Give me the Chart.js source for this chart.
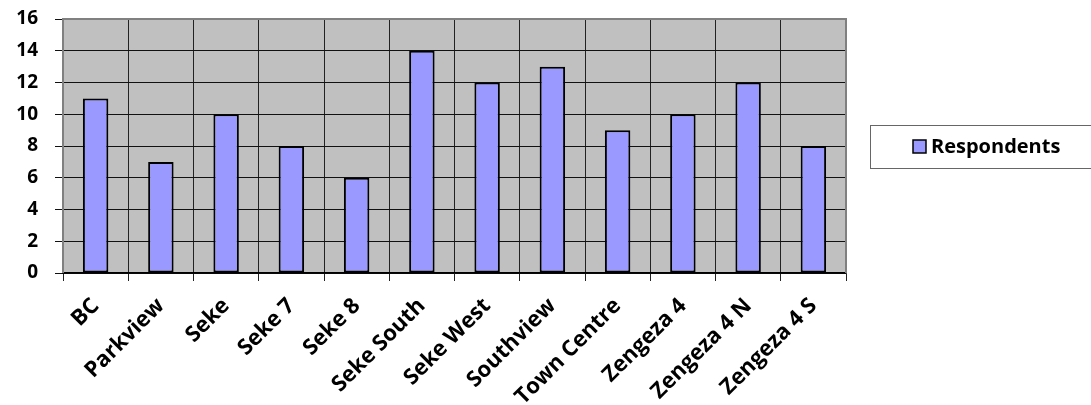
<!DOCTYPE html>
<html>
<head>
<meta charset="utf-8">
<script src="https://cdn.jsdelivr.net/npm/chart.js@4"></script>
<style>
  html, body { margin: 0; padding: 0; background: #fff; }
  #wrap { width: 1091px; height: 405px; }
</style>
</head>
<body>
<div id="wrap"><canvas id="barChart"></canvas></div>
<script>
// data
var areas = ["BC", "Parkview", "Seke", "Seke 7", "Seke 8", "Seke South", "Seke West",
             "Southview", "Town Centre", "Zengeza 4", "Zengeza 4 N", "Zengeza 4 S"];
var respondents = [11, 7, 10, 8, 6, 14, 12, 13, 9, 10, 12, 8];
var seriesName = "Respondents";
var yMax = 16;
var yStep = 2;

var FONT = "'Open Sans', 'Liberation Sans', sans-serif";

// grey plot area + grey frame (top, left, right), like Excel
var plotArea = {
    id: 'plotArea',
    beforeDraw: function (chart) {
        var a = chart.chartArea, c = chart.ctx;
        c.save();
        c.fillStyle = '#C0C0C0';
        c.fillRect(a.left, a.top, a.right - a.left, a.bottom - a.top);
        c.restore();
    },
    afterDatasetsDraw: function (chart) {
        var a = chart.chartArea, c = chart.ctx;
        c.save();
        c.strokeStyle = '#808080';
        c.lineWidth = 2;
        c.beginPath();
        c.moveTo(a.left, a.bottom);
        c.lineTo(a.left, a.top);
        c.lineTo(a.right, a.top);
        c.lineTo(a.right, a.bottom);
        c.stroke();
        c.restore();
    }
};

// legend in a box on the right
var boxLegend = {
    id: 'boxLegend',
    afterDraw: function (chart) {
        var c = chart.ctx;
        var ds = chart.data.datasets[0];
        c.save();
        c.fillStyle = '#fff';
        c.fillRect(870, 125, 230, 44);
        c.strokeStyle = '#666';
        c.lineWidth = 1;
        c.strokeRect(870.5, 125.5, 230, 43);
        c.fillStyle = ds.backgroundColor;
        c.fillRect(913, 140, 13, 13);
        c.strokeStyle = '#000';
        c.lineWidth = 1.5;
        c.strokeRect(913, 140, 13, 13);
        c.fillStyle = '#000';
        c.font = 'bold 20px ' + FONT;
        c.textBaseline = 'middle';
        c.fillText(ds.label, 931, 147);
        c.restore();
    }
};

function drawChart() {
    var ctx = document.getElementById("barChart");
    new Chart(ctx, {
        type: 'bar',
        data: {
            labels: areas,
            datasets: [{
                label: seriesName,
                data: respondents,
                backgroundColor: '#9999FF',
                borderColor: '#000000',
                borderWidth: 2,
                borderSkipped: false,
                categoryPercentage: 1.0,
                barPercentage: 0.39
            }]
        },
        options: {
            responsive: true,
            maintainAspectRatio: false,
            animation: false,
            layout: { padding: { top: 19, right: 245, left: 0, bottom: 0 } },
            plugins: {
                legend: { display: false },
                tooltip: { enabled: false }
            },
            scales: {
                x: {
                    grid: {
                        color: '#222',
                        lineWidth: 1,
                        offset: true,
                        tickLength: 8
                    },
                    border: { color: '#000', width: 1.5 },
                    ticks: {
                        color: '#000',
                        font: { family: FONT, size: 22, weight: 'bold' },
                        maxRotation: 45,
                        minRotation: 45,
                        padding: 12,
                        autoSkip: false
                    },
                    afterFit: function (scale) {
                        scale.height = 132;
                        scale.paddingLeft = 0;
                        scale.paddingRight = 0;
                    }
                },
                y: {
                    min: 0,
                    max: yMax,
                    grid: { color: '#111', lineWidth: 1, tickLength: 8 },
                    border: { display: false },
                    ticks: {
                        stepSize: yStep,
                        color: '#000',
                        padding: 17,
                        font: { family: FONT, size: 19, weight: 'bold' }
                    },
                    afterFit: function (scale) {
                        scale.width = 63;
                        scale.paddingTop = 0;
                        scale.paddingBottom = 0;
                    }
                }
            }
        },
        plugins: [plotArea, boxLegend]
    });
}

// make sure the font is ready before the canvas paints
if (document.fonts && document.fonts.load) {
    Promise.all([
        document.fonts.load("bold 19px 'Open Sans'")
    ]).then(drawChart, drawChart);
} else {
    drawChart();
}
</script>
</body>
</html>
